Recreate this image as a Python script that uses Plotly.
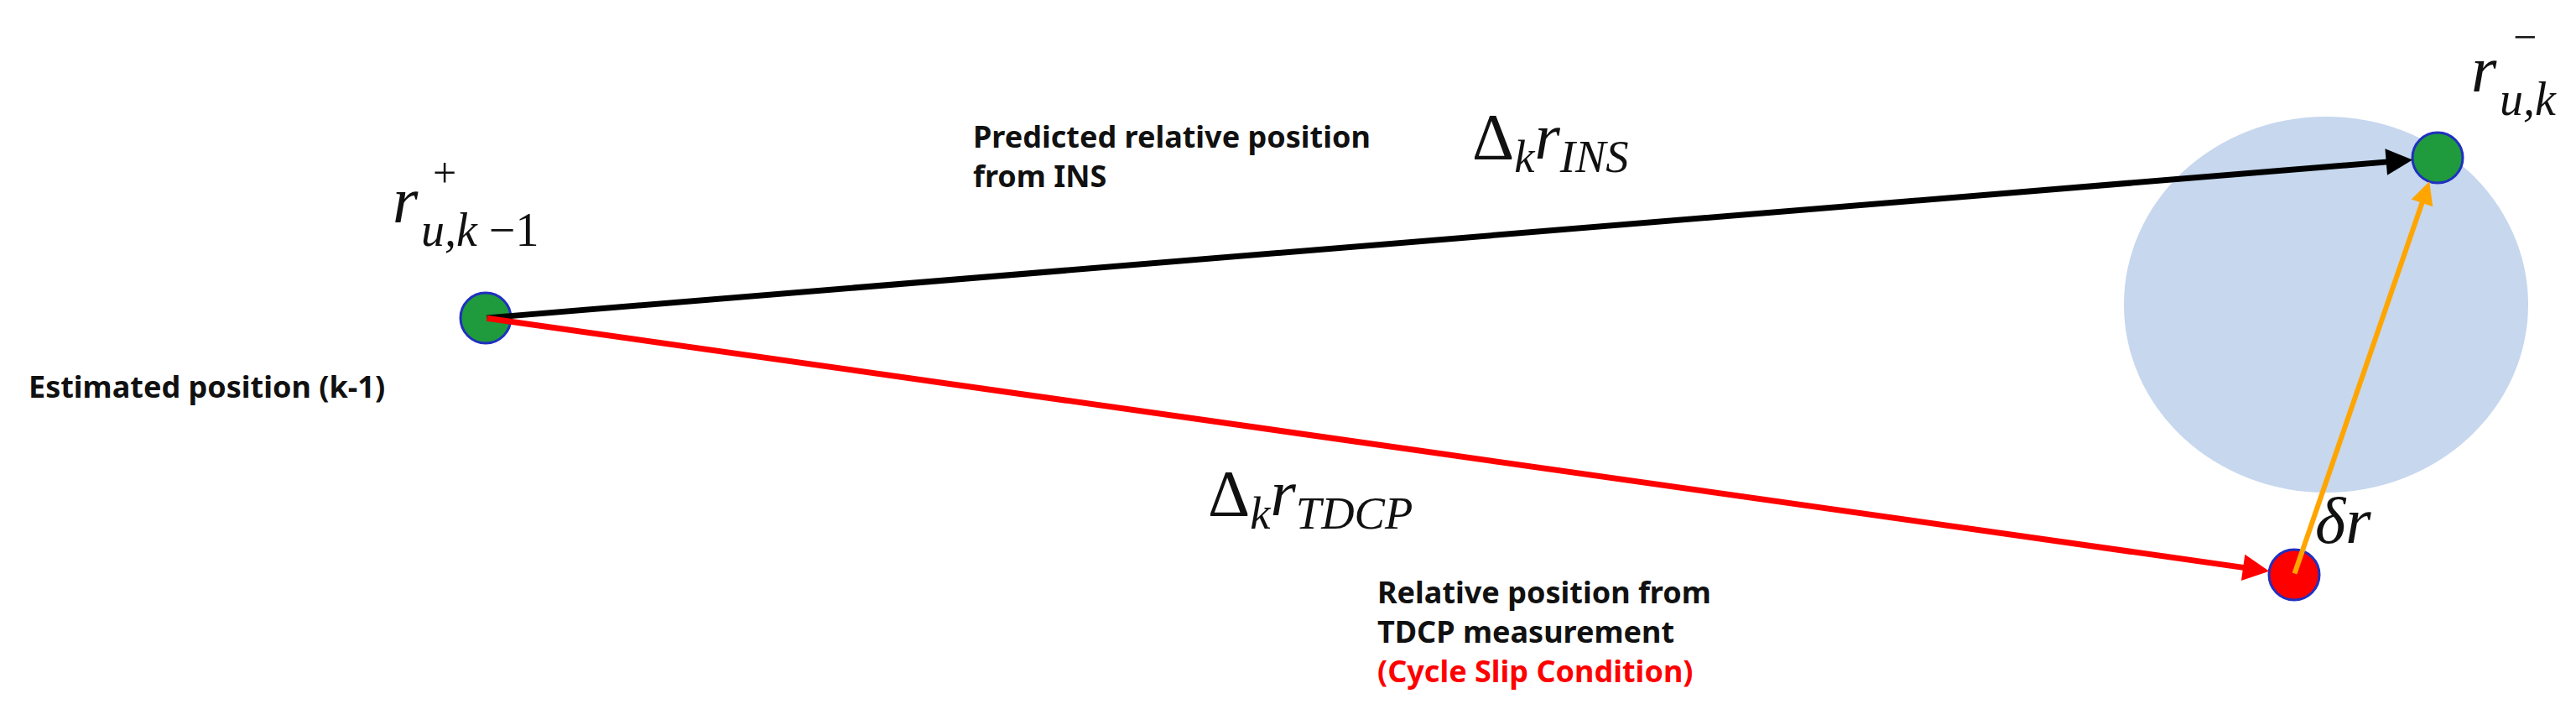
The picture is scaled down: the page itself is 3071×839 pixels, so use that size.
import plotly.graph_objects as go

W, H = 3071, 839
# point positions (pixel space of the diagram)
pt_names = ["prev", "pred", "meas"]
pt_x = [571, 2898, 2727]
pt_y = [371, 180, 677]
pt_colors = ["#1f9a3c", "#1f9a3c", "#ff0000"]
circle_center = (2765, 355)
circle_radius = (241, 224)

fig = go.Figure()
cx, cy = circle_center
rx, ry = circle_radius
fig.add_shape(type="circle", x0=cx-rx, x1=cx+rx, y0=cy-ry, y1=cy+ry,
              fillcolor="#c6d7ee", line=dict(width=0), layer="below")

def arrow(i, j, color, width, shrink):
    fig.add_annotation(x=pt_x[j], y=pt_y[j], ax=pt_x[i], ay=pt_y[i],
                       xref="x", yref="y", axref="x", ayref="y", text="",
                       showarrow=True, arrowhead=2, arrowsize=0.9, arrowwidth=width,
                       arrowcolor=color, standoff=shrink)

arrow(0, 1, "black", 7, 30)
arrow(0, 2, "#ff0000", 7, 30)
arrow(2, 1, "#ffa500", 6, 30)

fig.add_trace(go.Scatter(x=pt_x, y=pt_y, mode="markers",
                         marker=dict(size=60, color=pt_colors, line=dict(color="#2030c0", width=3)),
                         hoverinfo="skip"))

sans = dict(family="Noto Sans", size=36, color="#111")
serif = "Liberation Serif"
def txt(x, y, t, font, anchor="left"):
    fig.add_annotation(x=x, y=y, xref="x", yref="y", text=t, showarrow=False,
                       xanchor=anchor, yanchor="middle", font=font, align="left")

txt(1150, 178, "<b>Predicted relative position<br>from INS</b>", sans)
txt(24, 452, "<b>Estimated position (k-1)</b>", sans)
txt(1632, 744, "<b>Relative position from<br>TDCP measurement<br><span style='color:#ff0000'>(Cycle Slip Condition)</span></b>", sans)

mfont = dict(family=serif, size=78, color="#111")
sfont = dict(family=serif, size=56, color="#111")
txt(1745, 160, "Δ<sub><i>k</i></sub><i>r</i><sub><i>INS</i></sub>", mfont)
txt(1430, 585, "Δ<sub><i>k</i></sub><i>r</i><sub><i>TDCP</i></sub>", mfont)
txt(2750, 612, "<i>δr</i>", mfont)
# r^+_{u,k-1}
txt(458, 230, "<i>r</i>", mfont)
txt(506, 198, "+", dict(family=serif, size=50, color="#111"))
txt(492, 266, "<i>u,k</i> −1", sfont)
# r^-_{u,k}
txt(2936, 74, "<i>r</i>", mfont)
txt(2986, 36, "−", dict(family=serif, size=50, color="#111"))
txt(2970, 110, "<i>u,k</i>", sfont)

fig.update_layout(width=W, height=H, margin=dict(l=0, r=0, t=0, b=0),
                  plot_bgcolor="white", paper_bgcolor="white", showlegend=False,
                  xaxis=dict(range=[0, W], visible=False, fixedrange=True),
                  yaxis=dict(range=[H, 0], visible=False, fixedrange=True))
fig.write_html("out.html")
